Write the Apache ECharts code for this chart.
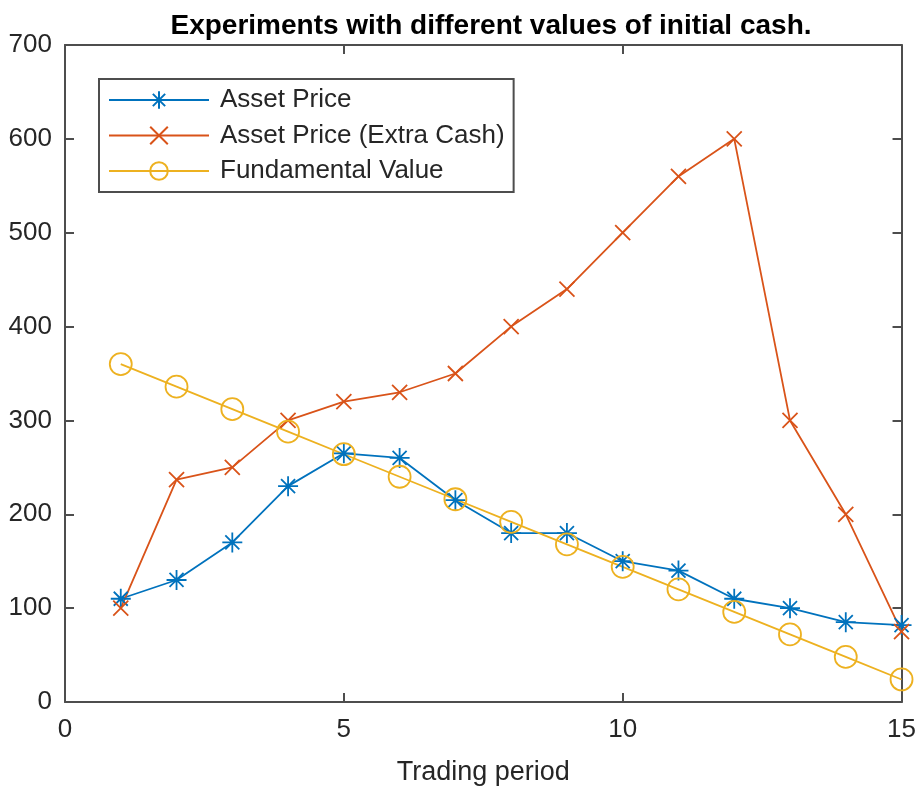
<!DOCTYPE html>
<html lang="en">
<head>
    <meta charset="UTF-8" />
    <title>Experiments with different values of initial cash</title>
    <script src="https://cdn.jsdelivr.net/npm/echarts@6/dist/echarts.min.js"></script>
    <style>
        html, body {
            margin: 0;
            padding: 0;
            background: #fff;
        }
        #chart {
            width: 919px;
            height: 791px;
        }
    </style>
</head>
<body>
<div id="chart"></div>
<script>
    const periods = [1, 2, 3, 4, 5, 6, 7, 8, 9, 10, 11, 12, 13, 14, 15];
    const assetPrice = [110, 130, 170, 230, 265, 260, 215, 180, 180, 150, 140, 110, 100, 85, 82];
    const assetPriceExtraCash = [100, 237, 250, 300, 320, 330, 350, 400, 440, 500, 560, 600, 300, 200, 75];
    const fundamentalValue = [360, 336, 312, 288, 264, 240, 216, 192, 168, 144, 120, 96, 72, 48, 24];

    const textColor = '#262626';
    const lineColor = '#4d4d4d';
    const font = 'Arial, "Liberation Sans", Helvetica, sans-serif';

    // matlab-ish markers: '*' is + and x together
    const starPath = 'path://M10 0L10 20M0 10L20 10M3 3L17 17M3 17L17 3';
    const crossPath = 'path://M0 0L20 20M0 20L20 0';

    function pairs(ys) {
        return periods.map((p, i) => [p, ys[i]]);
    }

    function makeSeries(name, ys, color, symbol, size) {
        return {
            name: name,
            type: 'line',
            data: pairs(ys),
            symbol: symbol,
            symbolSize: size,
            showAllSymbol: true,
            color: color,
            lineStyle: { color: color, width: 1.8 },
            itemStyle: { color: 'transparent', borderColor: color, borderWidth: 1.8 },
            emphasis: { disabled: true }
        };
    }

    const chart = echarts.init(document.getElementById('chart'));

    // box axes on top / right, ticks only
    const boxAxis = {
        axisLine: { show: true, onZero: false, lineStyle: { color: lineColor, width: 2 } },
        axisTick: { show: true, inside: true, length: 9, lineStyle: { color: lineColor, width: 2 } },
        axisLabel: { show: false },
        splitLine: { show: false }
    };

    chart.setOption({
        animation: false,
        textStyle: { fontFamily: font },
        title: {
            text: 'Experiments with different values of initial cash.',
            left: 486,
            textAlign: 'center',
            top: 7,
            textStyle: { fontSize: 28, fontWeight: 'bold', color: '#000', fontFamily: font }
        },
        grid: { left: 65, right: 17, top: 45, bottom: 85 },
        legend: {
            left: 99,
            top: 79,
            orient: 'vertical',
            itemWidth: 100,
            itemHeight: 22,
            itemGap: 9.5,
            padding: [8, 9, 8, 9],
            borderColor: lineColor,
            borderWidth: 2,
            backgroundColor: '#fff',
            textStyle: { fontSize: 26, lineHeight: 26, color: textColor, fontFamily: font, padding: [0, 0, 0, 6] },
            data: ['Asset Price', 'Asset Price (Extra Cash)', 'Fundamental Value']
        },
        xAxis: [{
            type: 'value',
            min: 0,
            max: 15,
            interval: 5,
            name: 'Trading period',
            nameLocation: 'middle',
            nameGap: 57,
            nameTextStyle: { fontSize: 27, color: textColor },
            axisLine: { show: true, onZero: false, lineStyle: { color: lineColor, width: 2 } },
            axisTick: { show: true, inside: true, length: 9, lineStyle: { color: lineColor, width: 2 } },
            axisLabel: { fontSize: 26, color: textColor, margin: 15 },
            splitLine: { show: false }
        }, Object.assign({
            type: 'value', position: 'top', min: 0, max: 15, interval: 5
        }, boxAxis)],
        yAxis: [{
            type: 'value',
            min: 0,
            max: 700,
            interval: 100,
            axisLine: { show: true, onZero: false, lineStyle: { color: lineColor, width: 2 } },
            axisTick: { show: true, inside: true, length: 9, lineStyle: { color: lineColor, width: 2 } },
            axisLabel: { fontSize: 26, color: textColor, margin: 13 },
            splitLine: { show: false }
        }, Object.assign({
            type: 'value', position: 'right', min: 0, max: 700, interval: 100
        }, boxAxis)],
        series: [
            makeSeries('Asset Price', assetPrice, '#0072BD', starPath, 20),
            makeSeries('Asset Price (Extra Cash)', assetPriceExtraCash, '#D95319', crossPath, 15),
            makeSeries('Fundamental Value', fundamentalValue, '#EDB120', 'circle', 22)
        ]
    });
</script>
</body>
</html>
